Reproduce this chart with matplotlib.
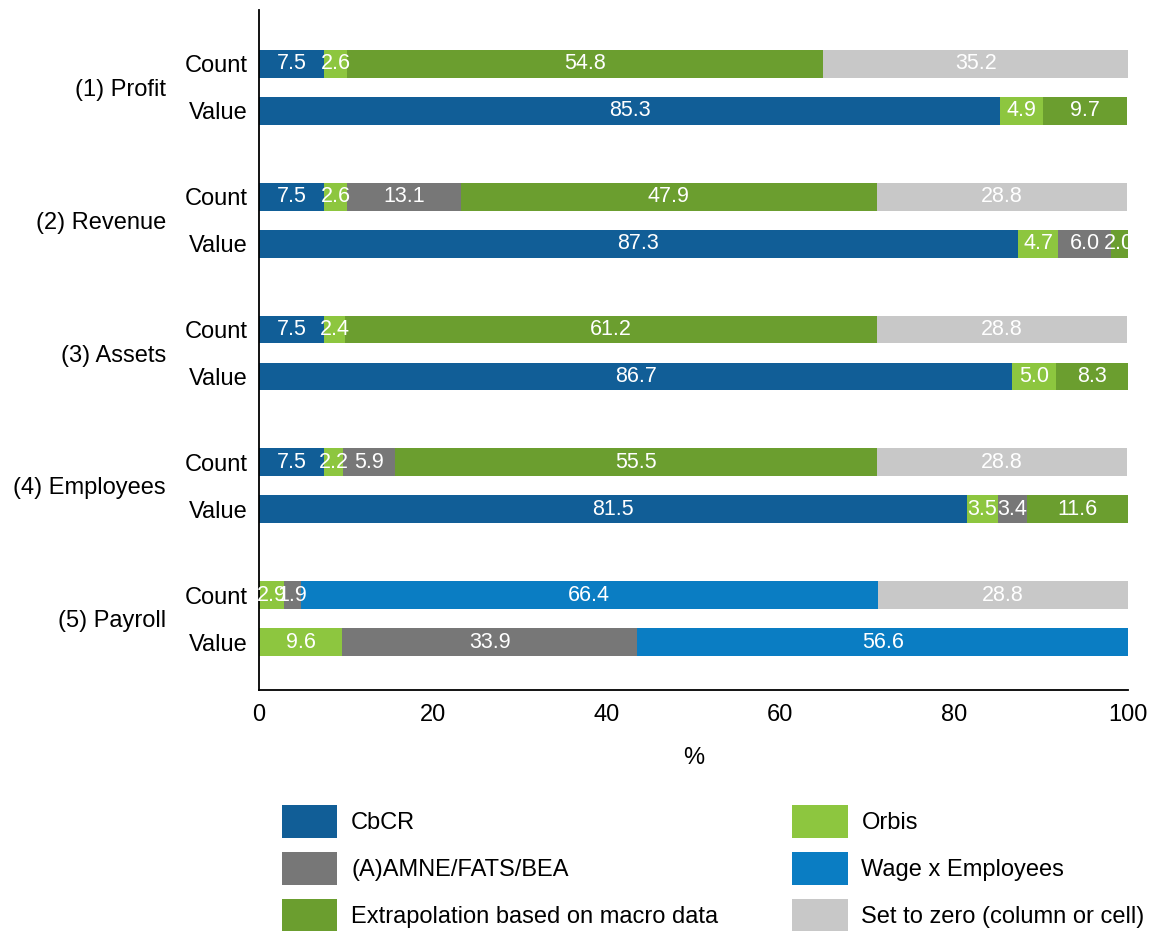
import matplotlib
matplotlib.use("Agg")
import matplotlib.pyplot as plt
import matplotlib.transforms as mtransforms
import numpy as np

plt.rcParams['font.family'] = ['Liberation Sans', 'DejaVu Sans']

groups = ["(1) Profit", "(2) Revenue", "(3) Assets", "(4) Employees", "(5) Payroll"]
row_labels = ["Count", "Value"]
sources = ["CbCR", "Orbis", "(A)AMNE/FATS/BEA", "Extrapolation based on macro data",
           "Wage x Employees", "Set to zero (column or cell)"]
colors = ["#115E97", "#8DC63F", "#777777", "#6B9E2F", "#0A7DC3", "#C8C8C8"]

# each list: values per source for the 10 bars (Count, Value per group)
cbcr   = [7.5, 85.3, 7.5, 87.3, 7.5, 86.7, 7.5, 81.5, 0.0, 0.0]
orbis  = [2.6, 4.9, 2.6, 4.7, 2.4, 5.0, 2.2, 3.5, 2.9, 9.6]
amne   = [0.0, 0.0, 13.1, 6.0, 0.0, 0.0, 5.9, 3.4, 1.9, 33.9]
extrap = [54.8, 9.7, 47.9, 2.0, 61.2, 8.3, 55.5, 11.6, 0.0, 0.0]
wage   = [0.0, 0.0, 0.0, 0.0, 0.0, 0.0, 0.0, 0.0, 66.4, 56.6]
zero   = [35.2, 0.0, 28.8, 0.0, 28.8, 0.0, 28.8, 0.0, 28.8, 0.0]
series = [cbcr, orbis, amne, extrap, wage, zero]

W, H = 1158, 931
fig = plt.figure(figsize=(W / 100, H / 100), dpi=100)
ax = fig.add_axes([259 / W, 1 - 690 / H, (1128 - 259) / W, (690 - 10) / H])

offset = 0.1767
bar_h = 0.21
ypos = []
for i in range(len(groups)):
    ypos += [i - offset, i + offset]
ypos = np.array(ypos)

left = np.zeros(len(ypos))
handles = []
for vals, col, name in zip(series, colors, sources):
    vals = np.array(vals)
    bars = ax.barh(ypos, vals, left=left, height=bar_h, color=col, label=name)
    handles.append(bars)
    for y, l, v in zip(ypos, left, vals):
        if v > 0:
            ax.text(l + v / 2, y, f"{v:.1f}", ha="center", va="center",
                    color="white", fontsize=15.5)
    left = left + vals

ax.set_xlim(0, 100)
ax.set_ylim(len(groups) - 1 + 0.538, -0.583)
ax.set_xticks(np.arange(0, 101, 20))
ax.set_yticks(ypos)
ax.set_yticklabels(row_labels * len(groups))
ax.tick_params(axis="both", length=0, labelsize=17)
ax.tick_params(axis="y", pad=8)
ax.tick_params(axis="x", pad=10)
for s in ["top", "right"]:
    ax.spines[s].set_visible(False)
for s in ["left", "bottom"]:
    ax.spines[s].set_color("black")
    ax.spines[s].set_linewidth(1.3)
ax.set_xlabel("%", fontsize=17, labelpad=15)

trans = mtransforms.blended_transform_factory(ax.transAxes, ax.transData)
for i, g in enumerate(groups):
    ax.text(-(259 - 166) / (1128 - 259), i + 0.02, g, transform=trans, ha="right",
            va="center", fontsize=17)

order = [0, 2, 3, 1, 4, 5]
fig.legend([handles[k] for k in order], [sources[k] for k in order],
           loc="upper left", bbox_to_anchor=(282 / W, 1 - 805 / H),
           ncol=2, frameon=False, fontsize=17, borderpad=0, borderaxespad=0,
           handlelength=2.35, handleheight=1.77, handletextpad=0.58,
           labelspacing=0.6, columnspacing=3.13)

fig.savefig("out.png", dpi=100)
